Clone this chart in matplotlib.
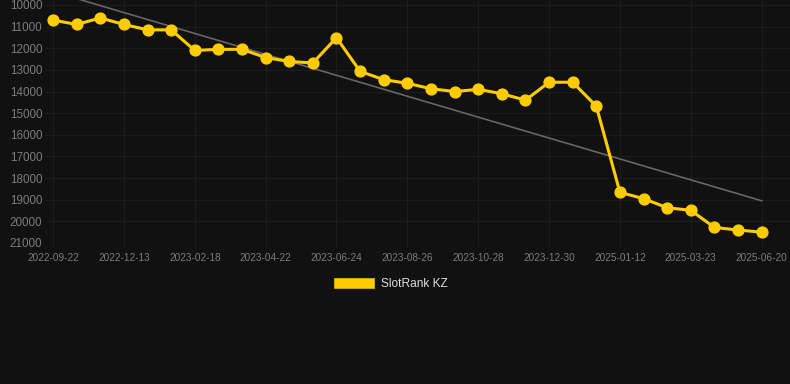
import numpy as np
import matplotlib
matplotlib.use("Agg")
import matplotlib.pyplot as plt
from matplotlib.patches import Patch

# rank values per snapshot (lower rank = higher on the chart)
rank_kz = [10700, 10900, 10600, 10900, 11150, 11150, 12100, 12050, 12050, 12430,
           12610, 12680, 11510, 13070, 13450, 13620, 13870, 14000, 13900, 14100,
           14400, 13570, 13570, 14680, 18660, 18950, 19370, 19490, 20280, 20400,
           20500]

# only every third date is labelled on the axis
tick_labels = ["2022-09-22", "2022-12-13", "2023-02-18", "2023-04-22", "2023-06-24",
               "2023-08-26", "2023-10-28", "2023-12-30", "2025-01-12", "2025-03-23",
               "2025-06-20"]
y_ticks = [10000, 11000, 12000, 13000, 14000, 15000, 16000, 17000, 18000, 19000,
           20000, 21000]

BG = "#111111"
YELLOW = "#FFCC00"
GRID = "#1c1c1c"
TICK = "#7c7c7c"

plt.rcParams["font.family"] = ["Liberation Sans", "DejaVu Sans"]

x = np.arange(len(rank_kz))
slope, intercept = np.polyfit(x, rank_kz, 1)
trend = slope * x + intercept

fig = plt.figure(figsize=(7.9, 3.84), dpi=100, facecolor=BG)
ax = fig.add_axes([45 / 790, (384 - 243) / 384, 1 - 45 / 790, 243 / 384])
ax.set_facecolor(BG)

ax.plot(x, trend, color="#666666", linewidth=1.2, zorder=2, clip_on=False)
ax.plot(x, rank_kz, color=YELLOW, linewidth=2.2, marker="o", markersize=7.8,
        markerfacecolor=YELLOW, markeredgecolor=YELLOW, zorder=3, clip_on=False)

ax.set_xlim(-0.34, 31.2)
ax.set_ylim(21000, 9770)
ax.set_xticks(x[::3])
ax.set_xticklabels(tick_labels)
ax.set_yticks(y_ticks)
ax.set_yticklabels([str(v) for v in y_ticks])

ax.grid(True, color=GRID, linewidth=0.8)
ax.set_axisbelow(True)
for s in ax.spines.values():
    s.set_visible(False)

ax.tick_params(axis="y", length=0, pad=2, labelsize=8.4, labelcolor=TICK)
ax.tick_params(axis="x", length=3, width=0.8, color=GRID, pad=4.5,
               labelsize=7.2, labelcolor=TICK)

handle = Patch(facecolor=YELLOW, edgecolor="#d9ad00", linewidth=0.6)
fig.legend([handle], ["SlotRank KZ"], loc="center", bbox_to_anchor=(391 / 790, 1 - 284 / 384),
           frameon=False, fontsize=8.6, labelcolor="#dddddd",
           handlelength=3.33, handleheight=0.92, handletextpad=0.55)

fig.savefig("out.png", dpi=100, facecolor=BG)
